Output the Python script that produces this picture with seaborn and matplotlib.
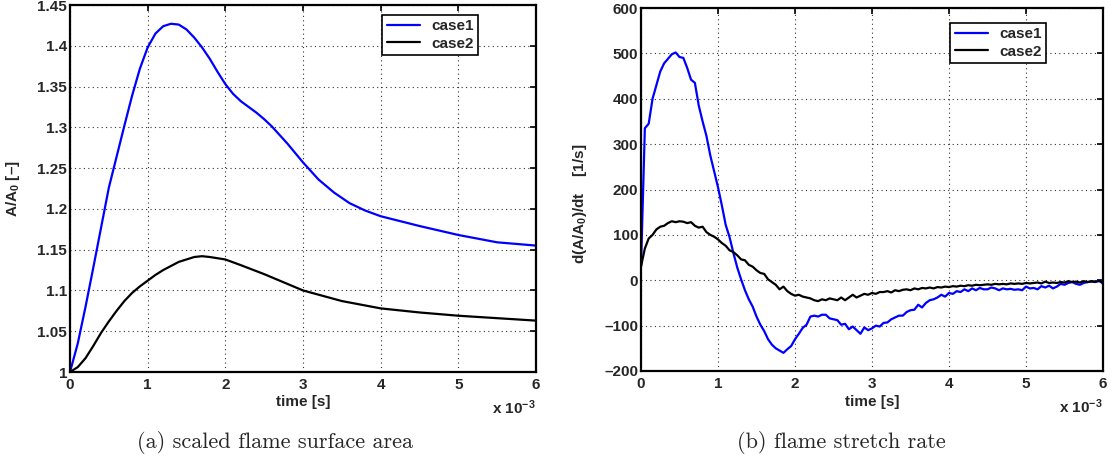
import numpy as np
import pandas as pd
import matplotlib
matplotlib.use('Agg')
import matplotlib.pyplot as plt
from matplotlib.ticker import FuncFormatter
import seaborn as sns

# ---- data (time in ms, shown with x 10^-3 factor) ----
t_area_1 = [0, 0.1, 0.2, 0.3, 0.4, 0.5, 0.6, 0.7, 0.8, 0.9, 1.0, 1.1, 1.2, 1.3, 1.4, 1.5,
            1.6, 1.7, 1.8, 1.9, 2.0, 2.1, 2.2, 2.3, 2.4, 2.5, 2.6, 2.8, 3.0, 3.2, 3.4, 3.6,
            3.8, 4.0, 4.5, 5.0, 5.5, 6.0]
area_case1 = [1.0, 1.035, 1.08, 1.128, 1.177, 1.226, 1.264, 1.302, 1.339, 1.372, 1.398,
              1.415, 1.424, 1.427, 1.426, 1.42, 1.41, 1.398, 1.384, 1.368, 1.353, 1.341,
              1.332, 1.325, 1.318, 1.31, 1.301, 1.28, 1.257, 1.236, 1.22, 1.207, 1.198,
              1.191, 1.179, 1.168, 1.159, 1.155]
t_area_2 = [0, 0.1, 0.2, 0.3, 0.4, 0.5, 0.6, 0.7, 0.8, 0.9, 1.0, 1.1, 1.2, 1.3, 1.4, 1.5,
            1.6, 1.7, 1.8, 2.0, 2.2, 2.5, 2.8, 3.0, 3.5, 4.0, 4.5, 5.0, 5.5, 6.0]
area_case2 = [1.0, 1.006, 1.017, 1.032, 1.048, 1.062, 1.075, 1.087, 1.097, 1.105, 1.112,
              1.119, 1.125, 1.13, 1.135, 1.138, 1.141, 1.142, 1.141, 1.138, 1.131, 1.12,
              1.108, 1.1, 1.087, 1.078, 1.073, 1.069, 1.066, 1.063]

t_rate = np.round(np.arange(121) * 0.05, 2)
rate_case1 = [30, 335, 345, 400, 430, 460, 478, 488, 498, 502, 492, 490, 468, 442, 435, 385,
              350, 318, 275, 240, 205, 165, 122, 95, 60, 28, 2, -22, -42, -58, -80, -98,
              -112, -130, -142, -150, -155, -160, -152, -145, -130, -118, -105, -98, -80, -78,
              -80, -76, -76, -84, -86, -88, -98, -96, -108, -102, -110, -118, -104, -110,
              -106, -100, -102, -94, -93, -86, -82, -78, -78, -70, -66, -65, -54, -60, -50,
              -44, -42, -38, -32, -36, -28, -30, -24, -26, -20, -24, -18, -22, -17, -20, -20,
              -16, -18, -22, -18, -20, -19, -21, -20, -22, -14, -18, -17, -20, -13, -16, -12,
              -18, -14, -8, -10, -6, -4, -8, -10, -6, -4, -3, -4, 0, -8]
rate_case2 = [30, 70, 92, 100, 112, 118, 120, 126, 130, 128, 130, 129, 126, 128, 120, 116,
              118, 106, 100, 96, 90, 82, 76, 66, 62, 55, 46, 44, 34, 30, 22, 16, 14, 2, -4,
              -10, -20, -14, -24, -30, -34, -32, -36, -38, -40, -44, -46, -42, -44, -40, -42,
              -44, -38, -44, -38, -32, -38, -34, -30, -32, -28, -30, -26, -26, -24, -27, -22,
              -24, -21, -20, -22, -18, -20, -17, -18, -16, -18, -15, -16, -14, -15, -13, -14,
              -12, -13, -11, -12, -10, -11, -10, -9, -10, -8, -9, -8, -9, -7, -8, -7, -8, -6,
              -7, -6, -5, -7, -3, -6, -5, -6, -4, -5, -2, -4, -3, -5, -2, -4, -2, -3, -2, -4]

cases = ['case1', 'case2']
colors = {'case1': '#0000ff', 'case2': '#000000'}

df_area = pd.concat([
    pd.DataFrame({'t': t_area_1, 'v': area_case1, 'case': 'case1'}),
    pd.DataFrame({'t': t_area_2, 'v': area_case2, 'case': 'case2'}),
])
df_rate = pd.concat([
    pd.DataFrame({'t': t_rate, 'v': rate_case1, 'case': 'case1'}),
    pd.DataFrame({'t': t_rate, 'v': rate_case2, 'case': 'case2'}),
])

sns.set_style('white')
plt.rcParams['font.family'] = ['Liberation Sans', 'DejaVu Sans']
plt.rcParams['font.weight'] = 'bold'
plt.rcParams['axes.labelweight'] = 'bold'
plt.rcParams['mathtext.fontset'] = 'custom'
plt.rcParams['mathtext.rm'] = 'Liberation Sans:bold'
plt.rcParams['mathtext.it'] = 'Liberation Sans:bold'
plt.rcParams['mathtext.bf'] = 'Liberation Sans:bold'

FS = 11

fig = plt.figure(figsize=(11.15, 4.63), dpi=100)
ax1 = fig.add_axes([70 / 1115, 1 - 372 / 463, 466 / 1115, 367 / 463])
ax2 = fig.add_axes([641 / 1115, 1 - 371 / 463, 462 / 1115, 363 / 463])


def fmt(v, pos):
    return ('%g' % v).replace('-', '\u2013')


def style_axes(ax, ylim, yticks):
    ax.set_xlim(0, 6)
    ax.set_ylim(*ylim)
    ax.set_xticks(range(0, 7))
    ax.set_yticks(yticks)
    ax.xaxis.set_major_formatter(FuncFormatter(fmt))
    ax.yaxis.set_major_formatter(FuncFormatter(fmt))
    ax.tick_params(direction='in', top=True, right=True, length=4, width=1.2,
                   labelsize=FS, color='black')
    ax.tick_params(axis='x', pad=4)
    ax.tick_params(axis='y', pad=2)
    for lbl in ax.get_xticklabels() + ax.get_yticklabels():
        lbl.set_fontweight('bold')
    for s in ax.spines.values():
        s.set_linewidth(1.6)
        s.set_color('black')
    ax.grid(True, linestyle=(0, (1, 3)), color='#333333', linewidth=0.8)
    ax.set_xlabel('time [s]', fontsize=FS, fontweight='bold')
    ax.text(1.0, -0.115, r'x 10$^{-3}$', transform=ax.transAxes, ha='right',
            va='baseline', fontsize=FS, fontweight='bold')


for ax, df in [(ax1, df_area), (ax2, df_rate)]:
    sns.lineplot(data=df, x='t', y='v', hue='case', hue_order=cases, palette=colors,
                 estimator=None, sort=False, linewidth=1.6, ax=ax)

style_axes(ax1, (1.0, 1.45), np.round(np.arange(1.0, 1.451, 0.05), 2))
style_axes(ax2, (-200, 600), range(-200, 601, 100))

ax1.set_ylabel('A/A$_0$ [\u2013]', fontsize=FS, fontweight='bold')
ax2.set_ylabel('d(A/A$_0$)/dt    [1/s]', fontsize=FS, fontweight='bold')
ax1.yaxis.set_label_coords(-0.102, 0.5)
ax2.yaxis.set_label_coords(-0.112, 0.46)
ax1.xaxis.set_label_coords(0.5, -0.063)
ax2.xaxis.set_label_coords(0.5, -0.067)

for ax, anchor in [(ax1, (0.876, 0.973)), (ax2, (0.877, 0.959))]:
    leg = ax.legend(loc='upper right', bbox_to_anchor=anchor, borderaxespad=0,
                    fancybox=False, framealpha=1, edgecolor='black',
                    prop={'weight': 'bold', 'size': FS}, handlelength=2.2,
                    labelspacing=0.2, borderpad=0.3, handletextpad=0.7)
    leg.get_frame().set_linewidth(1.2)

fig.text(275 / 1115, 1 - 443 / 463, '(a) scaled flame surface area', family='cmr10',
         fontsize=16, ha='center', va='center')
fig.text(841 / 1115, 1 - 443 / 463, '(b) flame stretch rate', family='cmr10',
         fontsize=16, ha='center', va='center')

fig.savefig('out.png', dpi=100)
